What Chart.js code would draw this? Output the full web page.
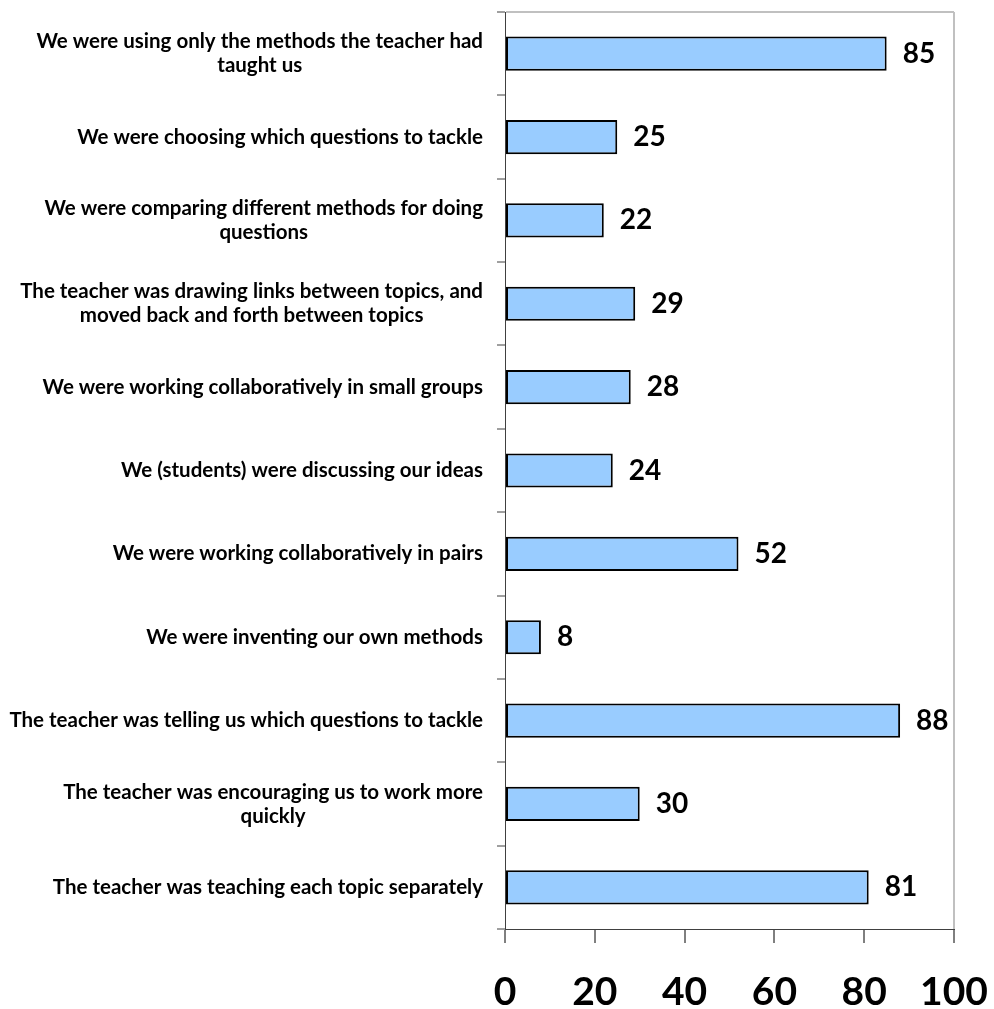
<!DOCTYPE html>
<html>
<head>
<meta charset="utf-8">
<script src="https://cdn.jsdelivr.net/npm/chart.js@4/dist/chart.umd.min.js"></script>
<style>
  html, body { margin: 0; padding: 0; background: #fff; }
  #wrap { width: 994px; height: 1009px; }
</style>
</head>
<body>
<div id="wrap"><canvas id="barChart" width="994" height="1009"></canvas></div>
<script>
// categories, top to bottom (arrays = wrapped lines)
const categories = [
  ['We were using only the methods the teacher had', 'taught us'],
  'We were choosing which questions to tackle',
  ['We were comparing different methods for doing', 'questions'],
  ['The teacher was drawing links between topics, and', 'moved back and forth between topics'],
  'We were working collaboratively in small groups',
  'We (students) were discussing our ideas',
  'We were working collaboratively in pairs',
  'We were inventing our own methods',
  'The teacher was telling us which questions to tackle',
  ['The teacher was encouraging us to work more', 'quickly'],
  'The teacher was teaching each topic separately'
];
const percentages = [85, 25, 22, 29, 28, 24, 52, 8, 88, 30, 81];
const xTicks = [0, 20, 40, 60, 80, 100];

const labelFont = 'bold 20.5px Lato, "Open Sans", sans-serif';
const valueFont = 'bold 28px Lato, "Open Sans", sans-serif';

// category labels: block right aligned to the axis, lines centred inside the block
const categoryLabels = {
  id: 'categoryLabels',
  afterDraw(chart) {
    const { ctx } = chart;
    const yScale = chart.scales.y;
    const rightEdge = yScale.right - 22;
    const lineHeight = 24;
    ctx.save();
    ctx.font = labelFont;
    ctx.fillStyle = '#000';
    ctx.textAlign = 'center';
    ctx.textBaseline = 'middle';
    chart.data.labels.forEach((label, i) => {
      const lines = Array.isArray(label) ? label : [label];
      const blockW = Math.max(...lines.map(l => ctx.measureText(l).width));
      const cx = rightEdge - blockW / 2;
      const cy = yScale.getPixelForTick(i);
      const top = cy - (lines.length - 1) * lineHeight / 2;
      lines.forEach((line, j) => ctx.fillText(line, cx, top + j * lineHeight));
    });
    ctx.restore();
  }
};

// value at the end of each bar
const valueLabels = {
  id: 'valueLabels',
  afterDatasetsDraw(chart) {
    const { ctx } = chart;
    const meta = chart.getDatasetMeta(0);
    ctx.save();
    ctx.font = valueFont;
    ctx.fillStyle = '#000';
    ctx.textAlign = 'left';
    ctx.textBaseline = 'middle';
    meta.data.forEach((bar, i) => {
      ctx.fillText(String(chart.data.datasets[0].data[i]), bar.x + 16, bar.y);
    });
    ctx.restore();
  }
};

new Chart(document.getElementById('barChart'), {
  type: 'bar',
  data: {
    labels: categories,
    datasets: [{
      data: percentages,
      backgroundColor: '#99CCFF',
      borderColor: '#000',
      borderWidth: 2,
      borderSkipped: false,
      categoryPercentage: 1,
      barPercentage: 0.41
    }]
  },
  options: {
    indexAxis: 'y',
    responsive: false,
    animation: false,
    layout: { padding: { top: 12, right: 40, bottom: 0, left: 0 } },
    plugins: {
      legend: { display: false },
      tooltip: { enabled: false }
    },
    scales: {
      x: {
        type: 'linear',
        position: 'bottom',
        min: 0,
        max: 100,
        afterBuildTicks: scale => { scale.ticks = xTicks.map(v => ({ value: v })); },
        afterFit: scale => {
          scale.height = 80;
          // the "100" label may hang past the plot edge
          scale.paddingLeft = 0;
          scale.paddingRight = 0;
        },
        border: { color: '#404040', width: 1 },
        grid: {
          color: c => (c.tick && c.tick.value === 100 ? '#c0c0c0' : 'rgba(0,0,0,0)'),
          lineWidth: 2,
          tickColor: '#000',
          tickWidth: 1,
          tickLength: 14
        },
        ticks: {
          color: '#000',
          padding: 26,
          font: { family: 'Lato, "Open Sans", sans-serif', size: 39, weight: 'bold' }
        }
      },
      y: {
        type: 'category',
        offset: true,
        afterFit: scale => { scale.width = 505; },
        border: { color: '#404040', width: 1 },
        grid: {
          offset: true,
          color: c => (c.index === 0 ? '#c0c0c0' : 'rgba(0,0,0,0)'),
          lineWidth: 2,
          tickColor: '#404040',
          tickWidth: 1,
          tickLength: 8
        },
        ticks: { display: false }
      }
    }
  },
  plugins: [categoryLabels, valueLabels]
});
</script>
</body>
</html>
